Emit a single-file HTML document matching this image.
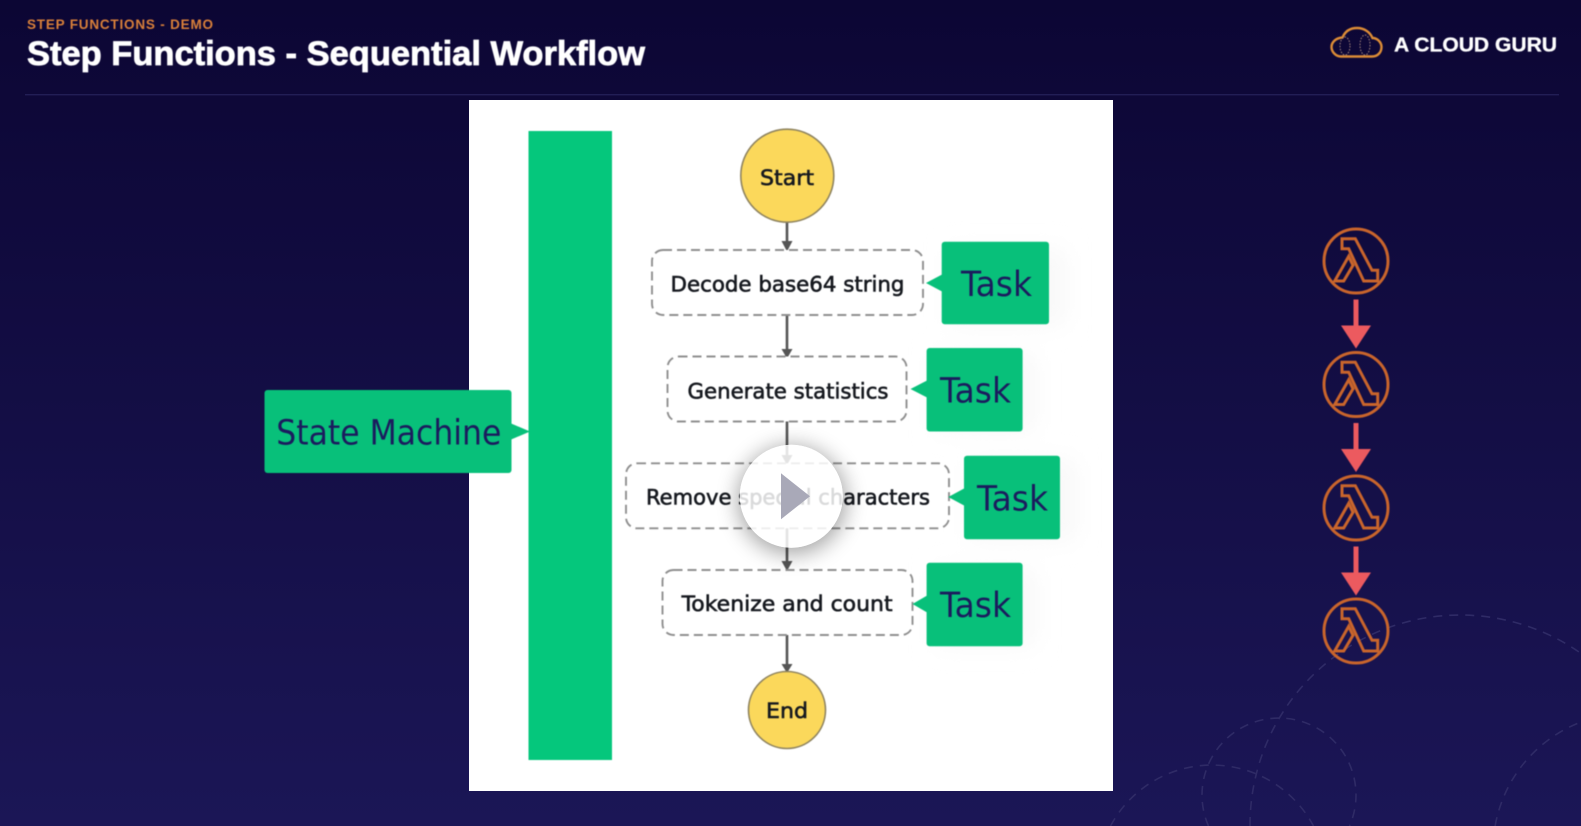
<!DOCTYPE html>
<html><head><meta charset="utf-8"><style>
html,body{margin:0;padding:0;width:1581px;height:826px;overflow:hidden;background:#120c45}
svg{display:block}
.b{font-family:"DejaVu Sans","Liberation Sans",sans-serif;font-weight:400;font-size:21.5px;fill:#16191f;stroke:#16191f;stroke-width:.6}
.t{font-family:"DejaVu Sans","Liberation Sans",sans-serif;font-weight:400;font-size:35px;fill:#1b1b5e}
.box{fill:#fff;stroke:#8f8f8f;stroke-width:1.9;stroke-dasharray:9 5}
.g{fill:#08c07a}
.c{stroke:#555;stroke-width:2.6;fill:none}
.h{fill:#555}
.l{fill:none;stroke:#c9652c;stroke-width:3;stroke-linejoin:miter}
.r{fill:#ec5a5f}
.d{fill:none;stroke:#2f2b66;stroke-width:1.6;stroke-dasharray:9 7}
.soft{filter:blur(.45px)}
</style></head><body>
<svg width="1581" height="826" viewBox="0 0 1581 826" xmlns="http://www.w3.org/2000/svg">
<defs>
<linearGradient id="bg" x1="0" y1="0" x2="0" y2="1"><stop offset="0" stop-color="#0c0634"/><stop offset="1" stop-color="#1b1656"/></linearGradient>
<filter id="sh" x="-40%" y="-40%" width="180%" height="180%"><feGaussianBlur stdDeviation="12"/></filter>
<filter id="ps" x="-50%" y="-50%" width="200%" height="200%"><feGaussianBlur stdDeviation="11"/></filter>
<clipPath id="pc"><rect x="469" y="100" width="644" height="691"/></clipPath>
<mask id="pm" maskUnits="userSpaceOnUse" x="469" y="100" width="644" height="691"><rect x="469" y="100" width="644" height="691" fill="#fff"/><circle cx="791.3" cy="496.2" r="51.5" fill="#000"/></mask>
<g id="lam">
<circle r="32" class="l"/>
<path class="l" d="M-14 -22.3H-.7L16 9.3H21.7V20H7.7L-7.3 -12.3H-14Z"/>
<path class="l" d="M-7.3 -4.7L-3 4.3L-12.3 20H-21.3Z"/>
</g>
<g id="ra">
<rect x="-2.5" y="0" width="5" height="32" class="r"/>
<path class="r" d="M-15 26H15L0 49Z"/>
</g>
</defs>
<rect width="1581" height="826" fill="url(#bg)"/>

<!-- background dashed arcs -->
<path class="d" d="M1250 826A210 210 0 0 1 1581 653.4"/>
<path class="d" d="M1208.5 826A77 77 0 1 1 1349.5 826"/>
<path class="d" d="M1110.5 826A115 115 0 0 1 1313.5 826"/>
<path class="d" d="M1495.1 826A137 137 0 0 1 1581 722"/>

<!-- header -->
<g class="soft">
<text x="27" y="29" font-family="Liberation Sans,sans-serif" font-weight="700" font-size="13.5" fill="#d9803a" textLength="186">STEP FUNCTIONS - DEMO</text>
<text x="27" y="65" font-family="Liberation Sans,sans-serif" font-weight="700" font-size="34" fill="#fff" stroke="#fff" stroke-width=".8" textLength="618" lengthAdjust="spacingAndGlyphs">Step Functions - Sequential Workflow</text>
</g>
<rect x="25" y="94" width="1534" height="1.4" fill="#221e55"/>

<!-- logo -->
<g class="soft">
<path d="M1341 56.5H1372C1378 56.5 1381.5 52 1381.5 47C1381.5 42 1377 38 1372.5 38C1370 32 1364 28 1357 28C1350 28 1345 31.5 1342.5 37.5C1336 38 1331.5 42 1331.5 47C1331.5 52 1336 56.5 1341 56.5Z" fill="none" stroke="#dc8c36" stroke-width="2.4"/>
<ellipse cx="1345" cy="46" rx="5" ry="9" fill="none" stroke="#a98a80" stroke-width="1" stroke-dasharray="1.5 1.5"/>
<ellipse cx="1365" cy="45" rx="5" ry="10" fill="none" stroke="#a98a80" stroke-width="1" stroke-dasharray="1.5 1.5"/>
<text x="1394" y="51.5" font-family="Liberation Sans,sans-serif" font-weight="700" font-size="20" fill="#fff" stroke="#fff" stroke-width=".3" textLength="163" lengthAdjust="spacingAndGlyphs">A CLOUD GURU</text>
</g>

<!-- white panel -->
<rect x="469" y="100" width="644" height="691" fill="#fff"/>
<g class="soft">
<rect x="528.5" y="131" width="83.5" height="629" fill="#05c77c"/>

<!-- faint halos -->
<g clip-path="url(#pc)"><g filter="url(#sh)" fill="#f8f8f8">
<rect x="950" y="250" width="115" height="75"/>
<rect x="935" y="355" width="100" height="75"/>
<rect x="970" y="460" width="105" height="80"/>
<rect x="935" y="570" width="100" height="75"/>
</g></g>

<!-- connectors -->
<path class="c" d="M787 222V243M787 315V349M787 421.5V456M787 528V563M787 635V664"/>
<path class="h" d="M781.5 241H792.5L787 251.5Z M781.5 349H792.5L787 358.5Z M781.5 455H792.5L787 465Z M781.5 561H792.5L787 571Z M781.5 664H792.5L787 673Z"/>

<!-- nodes -->
<circle cx="787.3" cy="175.7" r="46.5" fill="#fbd85b" stroke="#8f8460" stroke-width="1.6"/>
<text class="b" x="760" y="185" textLength="54" lengthAdjust="spacingAndGlyphs">Start</text>

<rect class="box" x="652" y="250" width="271" height="65" rx="11"/>
<text class="b" x="670.5" y="291.5" textLength="234" lengthAdjust="spacingAndGlyphs">Decode base64 string</text>

<rect class="box" x="667.5" y="356.5" width="239" height="65" rx="11"/>
<text class="b" x="687.5" y="398.5" textLength="201" lengthAdjust="spacingAndGlyphs">Generate statistics</text>

<rect class="box" x="626" y="463.3" width="323" height="65" rx="11"/>
<text class="b" x="646" y="504.5" textLength="284" lengthAdjust="spacingAndGlyphs">Remove special characters</text>

<rect class="box" x="662.5" y="570" width="250" height="65" rx="11"/>
<text class="b" x="681.6" y="611" textLength="211" lengthAdjust="spacingAndGlyphs">Tokenize and count</text>

<circle cx="787" cy="710" r="38.5" fill="#fbd85b" stroke="#8f8460" stroke-width="1.6"/>
<text class="b" x="766" y="718" textLength="42" lengthAdjust="spacingAndGlyphs">End</text>

<!-- green callouts -->
<rect class="g" x="264.5" y="390" width="247" height="83" rx="3"/>
<path class="g" d="M510 423L530 431.5L510 440Z"/>
<text class="t" x="276.3" y="444.5" textLength="225" lengthAdjust="spacingAndGlyphs">State Machine</text>

<rect class="g" x="941.7" y="241.7" width="107.3" height="82.6" rx="3"/>
<path class="g" d="M943 274L926 283L943 292Z"/>
<text class="t" x="961" y="296" textLength="71" lengthAdjust="spacingAndGlyphs">Task</text>

<rect class="g" x="926.6" y="348" width="96" height="83.5" rx="3"/>
<path class="g" d="M928 380L910.5 389L928 398Z"/>
<text class="t" x="940" y="402.5" textLength="71" lengthAdjust="spacingAndGlyphs">Task</text>

<rect class="g" x="964" y="455.7" width="96" height="83.6" rx="3"/>
<path class="g" d="M965 488L948.3 497L965 506Z"/>
<text class="t" x="977" y="510.5" textLength="71" lengthAdjust="spacingAndGlyphs">Task</text>

<rect class="g" x="926.6" y="562.7" width="96" height="83.6" rx="3"/>
<path class="g" d="M928 595L912.5 604L928 613Z"/>
<text class="t" x="940" y="617" textLength="71" lengthAdjust="spacingAndGlyphs">Task</text>
</g>

<!-- play overlay -->
<g mask="url(#pm)"><circle cx="792" cy="500" r="54" fill="#000" opacity=".36" filter="url(#ps)"/></g>
<circle cx="791.3" cy="496.2" r="51.5" fill="#fff" fill-opacity=".84"/>
<path d="M781 473.3L810 496.3L781 519.3Z" fill="#a9a9b8"/>

<!-- lambdas -->
<g class="soft">
<use href="#lam" x="1356" y="261"/>
<use href="#lam" x="1356" y="384.5"/>
<use href="#lam" x="1356" y="508"/>
<use href="#lam" x="1356" y="631"/>
<use href="#ra" x="1356" y="299.5"/>
<use href="#ra" x="1356" y="423"/>
<use href="#ra" x="1356" y="546.5"/>
</g>
</svg>
</body></html>
